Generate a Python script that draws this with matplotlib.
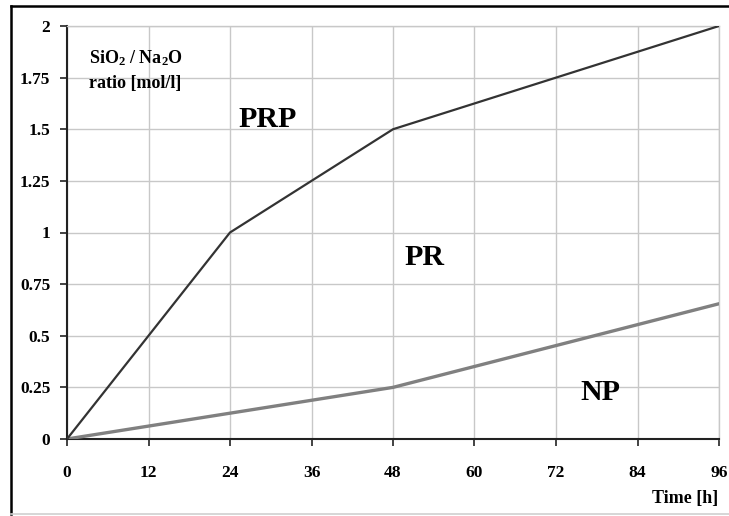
import matplotlib.pyplot as plt
from matplotlib.lines import Line2D

# Data
time_prp = [0, 24, 48, 96]
ratio_prp = [0, 1.0, 1.5, 2.0]
time_np = [0, 48, 96]
ratio_np = [0, 0.25, 0.655]
x_ticks = [0, 12, 24, 36, 48, 60, 72, 84, 96]
y_ticks = [0, 0.25, 0.5, 0.75, 1, 1.25, 1.5, 1.75, 2]
y_tick_labels = ['0', '0.25', '0.5', '0.75', '1', '1.25', '1.5', '1.75', '2']

plt.rcParams['font.family'] = ['Liberation Serif', 'DejaVu Serif']
plt.rcParams['mathtext.default'] = 'regular'

fig = plt.figure(figsize=(7.29, 5.16), dpi=100)
ax = fig.add_axes([67 / 729, 1 - 439 / 516, 652 / 729, 413 / 516])

ax.plot(time_np, ratio_np, color='#808080', lw=2.4, solid_capstyle='round', zorder=3)
ax.plot(time_prp, ratio_prp, color='#333333', lw=1.6, zorder=4)

ax.set_xlim(0, 96)
ax.set_ylim(0, 2)
ax.set_xticks(x_ticks)
ax.set_yticks(y_ticks)
ax.set_yticklabels(y_tick_labels)
ax.grid(True, color='#c8c8c8', lw=1.0)
ax.set_axisbelow(True)

for s in ['top', 'right']:
    ax.spines[s].set_color('#c8c8c8')
    ax.spines[s].set_linewidth(1.0)
for s in ['left', 'bottom']:
    ax.spines[s].set_color('#222222')
    ax.spines[s].set_linewidth(1.5)

ax.tick_params(axis='both', direction='out', length=5, width=1.2, color='#222222',
               labelsize=12.5)
ax.tick_params(axis='x', pad=14)
ax.tick_params(axis='y', pad=7)
for lab in ax.get_xticklabels() + ax.get_yticklabels():
    lab.set_fontweight('bold')

ax.text(29.6, 1.545, 'PRP', fontsize=21.5, fontweight='bold', ha='center', va='center')
ax.text(52.7, 0.877, 'PR', fontsize=21.5, fontweight='bold', ha='center', va='center')
ax.text(78.5, 0.225, 'NP', fontsize=21.5, fontweight='bold', ha='center', va='center')
ax.text(3.2, 1.845, 'SiO$_2$ / Na$_2$O', fontsize=13, fontweight='bold', ha='left', va='center')
ax.text(3.2, 1.72, 'ratio [mol/l]', fontsize=13, fontweight='bold', ha='left', va='center')

fig.text(718 / 729, 1 - 498 / 516, 'Time [h]', fontsize=13, fontweight='bold',
         ha='right', va='center')

# outer frame
fig.add_artist(Line2D([11 / 729, 11 / 729], [1 - 6 / 516, 1 - 514 / 516],
                      transform=fig.transFigure, color='black', lw=1.8))
fig.add_artist(Line2D([11 / 729, 1], [1 - 6 / 516, 1 - 6 / 516],
                      transform=fig.transFigure, color='black', lw=1.8))
fig.add_artist(Line2D([11 / 729, 1], [1 - 514 / 516, 1 - 514 / 516],
                      transform=fig.transFigure, color='#d0d0d0', lw=1.2))

fig.savefig('out.png', dpi=100)
